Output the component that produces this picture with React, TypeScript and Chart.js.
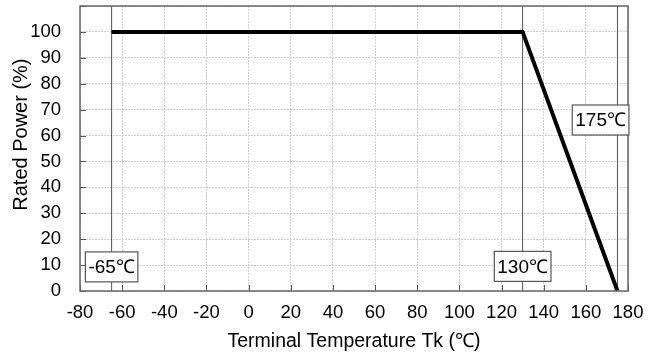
import React, { useEffect, useRef } from 'react';
import { Chart, registerables } from 'chart.js';

Chart.register(...registerables);

// ---- data ----
const tempC = [-65, 130, 175];
const ratedPower = [100, 100, 0];
const markerTemps = [-65, 130, 175];
const labelTexts = ['-65℃', '130℃', '175℃'];
const labelX = [-65, 130, 167];
const labelY = [9.3, 9.5, 66];
const xMin = -80;
const xMax = 180;
const xStep = 20;
const yMin = 0;
const yMax = 110;
const yStep = 10;
const yLabelMax = 100;
const xTitle = 'Terminal Temperature Tk (℃)';
const yTitle = '     Rated Power (%)';

const FONT = '"Liberation Sans", Arial, sans-serif';

const framePlugin = {
  id: 'frameAndLabels',
  afterDatasetsDraw(chart: any) {
    const { ctx, chartArea: a, scales } = chart;
    const xs = scales.x;
    const ys = scales.y;
    ctx.save();
    // inward tick marks
    ctx.strokeStyle = '#555';
    ctx.lineWidth = 1;
    ctx.beginPath();
    for (let v = yMin; v <= yMax; v += yStep) {
      const y = Math.round(ys.getPixelForValue(v)) + 0.5;
      ctx.moveTo(a.left, y);
      ctx.lineTo(a.left + 6, y);
    }
    for (let v = xMin; v <= xMax; v += xStep) {
      const x = Math.round(xs.getPixelForValue(v)) + 0.5;
      ctx.moveTo(x, a.bottom);
      ctx.lineTo(x, a.bottom - 6);
    }
    ctx.stroke();
    // frame
    ctx.strokeStyle = '#666';
    ctx.lineWidth = 1.5;
    ctx.strokeRect(a.left, a.top, a.right - a.left, a.bottom - a.top);
    // labels
    ctx.font = '19px ' + FONT;
    ctx.textBaseline = 'middle';
    ctx.textAlign = 'center';
    for (let i = 0; i < labelTexts.length; i++) {
      const cx = xs.getPixelForValue(labelX[i]);
      const cy = ys.getPixelForValue(labelY[i]);
      const w = ctx.measureText(labelTexts[i]).width + 6;
      const h = 30;
      ctx.fillStyle = '#fff';
      ctx.fillRect(cx - w / 2, cy - h / 2, w, h);
      ctx.strokeStyle = '#555';
      ctx.lineWidth = 1.2;
      ctx.strokeRect(cx - w / 2, cy - h / 2, w, h);
      ctx.fillStyle = '#000';
      ctx.fillText(labelTexts[i], cx, cy + 1);
    }
    ctx.restore();
  },
};

export default function App() {
  const ref = useRef<HTMLCanvasElement | null>(null);
  useEffect(() => {
    if (!ref.current) return;
    const markerSets = markerTemps.map((t) => ({
      data: [
        { x: t, y: yMin },
        { x: t, y: yMax },
      ],
      borderColor: '#555',
      borderWidth: 1,
      pointRadius: 0,
      fill: false,
    }));
    const chart = new Chart(ref.current, {
      type: 'line',
      data: {
        datasets: [
          {
            data: tempC.map((t, i) => ({ x: t, y: ratedPower[i] })),
            borderColor: '#000',
            borderWidth: 4,
            pointRadius: 0,
            fill: false,
            tension: 0,
          },
          ...markerSets,
        ],
      },
      options: {
        animation: false,
        responsive: false,
        maintainAspectRatio: false,
        layout: { padding: { top: 6, right: 23, left: 0, bottom: 0 } },
        plugins: { legend: { display: false }, tooltip: { enabled: false } },
        scales: {
          x: {
            type: 'linear',
            min: xMin,
            max: xMax,
            afterFit(s: any) {
              s.height = 65;
              s.paddingLeft = 0;
              s.paddingRight = 0;
            },
            ticks: {
              stepSize: xStep,
              autoSkip: false,
              padding: 11,
              color: '#000',
              font: { family: FONT, size: 18.5 },
              maxRotation: 0,
            },
            grid: { color: '#cfcfcf', drawTicks: false },
            border: { display: false, dash: [2, 1] },
            title: {
              display: true,
              text: xTitle,
              color: '#000',
              font: { family: FONT, size: 19.5 },
              padding: { top: 0, bottom: 3 },
            },
          },
          y: {
            type: 'linear',
            min: yMin,
            max: yMax,
            afterFit(s: any) {
              s.width = 80;
              s.paddingTop = 0;
              s.paddingBottom = 0;
            },
            ticks: {
              stepSize: yStep,
              autoSkip: false,
              padding: 19,
              color: '#000',
              font: { family: FONT, size: 18.5 },
              callback: (v: any) => (v > yLabelMax ? '' : String(v)),
            },
            grid: { color: '#cfcfcf', drawTicks: false },
            border: { display: false, dash: [2, 1] },
            title: {
              display: true,
              text: yTitle,
              color: '#000',
              font: { family: FONT, size: 20 },
              padding: { top: 9, bottom: 0 },
            },
          },
        },
      },
      plugins: [framePlugin],
    });
    return () => chart.destroy();
  }, []);
  return (
    <div style={{ position: 'absolute', left: 0, top: 0, width: 651, height: 356, background: '#fff' }}>
      <canvas ref={ref} width={651} height={356} style={{ width: 651, height: 356 }} />
    </div>
  );
}
